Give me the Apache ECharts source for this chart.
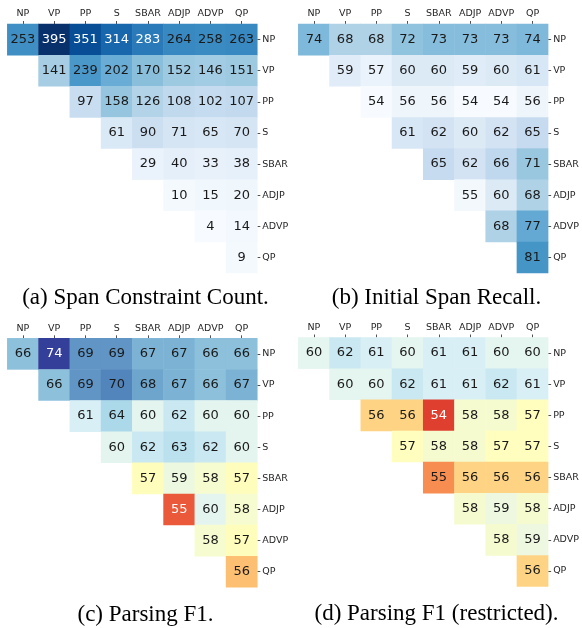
<!DOCTYPE html>
<html><head><meta charset="utf-8">
<script src="https://cdn.jsdelivr.net/npm/echarts@6/dist/echarts.min.js"></script>
<style>html,body{margin:0;padding:0;background:#fff}#c{width:582px;height:628px}</style>
</head><body><div id="c"></div>
<script>
// ---------------- DATA ----------------
const categories = ['NP', 'VP', 'PP', 'S', 'SBAR', 'ADJP', 'ADVP', 'QP'];

// each row i starts at column i (upper triangle)
const spanCount = [
  [253, 395, 351, 314, 283, 264, 258, 263],
  [141, 239, 202, 170, 152, 146, 151],
  [97, 158, 126, 108, 102, 107],
  [61, 90, 71, 65, 70],
  [29, 40, 33, 38],
  [10, 15, 20],
  [4, 14],
  [9]
];
const spanRecall = [
  [74, 68, 68, 72, 73, 73, 73, 74],
  [59, 57, 60, 60, 59, 60, 61],
  [54, 56, 56, 54, 54, 56],
  [61, 62, 60, 62, 65],
  [65, 62, 66, 71],
  [55, 60, 68],
  [68, 77],
  [81]
];
const parsingF1 = [
  [66, 74, 69, 69, 67, 67, 66, 66],
  [66, 69, 70, 68, 67, 66, 67],
  [61, 64, 60, 62, 60, 60],
  [60, 62, 63, 62, 60],
  [57, 59, 58, 57],
  [55, 60, 58],
  [58, 57],
  [56]
];
const parsingF1Restricted = [
  [60, 62, 61, 60, 61, 61, 60, 60],
  [60, 60, 62, 61, 61, 62, 61],
  [56, 56, 54, 58, 58, 57],
  [57, 58, 58, 57, 57],
  [55, 56, 56, 56],
  [58, 59, 58],
  [58, 59],
  [56]
];
const captions = [
  '(a) Span Constraint Count.',
  '(b) Initial Span Recall.',
  '(c) Parsing F1.',
  '(d) Parsing F1 (restricted).'
];

// ---------------- COLOURMAPS ----------------
const BLUES = ['#f7fbff','#deebf7','#c6dbef','#9ecae1','#6baed6','#4292c6','#2171b5','#08519c','#08306b'];
const RDYLBU = ['#a50026','#d73027','#f46d43','#fdae61','#fee090','#ffffbf','#e0f3f8','#abd9e9','#74add1','#4575b4','#313695'];
function h2r(h){ return [parseInt(h.slice(1,3),16), parseInt(h.slice(3,5),16), parseInt(h.slice(5,7),16)]; }
function cmap(stops, t){
  t = Math.max(0, Math.min(1, t));
  const p = t * (stops.length - 1);
  const i = Math.min(stops.length - 2, Math.floor(p));
  const f = p - i;
  const a = h2r(stops[i]), b = h2r(stops[i + 1]);
  const c = a.map((v, k) => Math.round(v + (b[k] - v) * f));
  return 'rgb(' + c.join(',') + ')';
}
function linearNorm(vmin, vmax){ return v => (v - vmin) / (vmax - vmin); }
function twoSlopeNorm(vmin, vc, vmax){
  return v => v < vc ? 0.5 * (v - vmin) / (vc - vmin) : 0.5 + 0.5 * (v - vc) / (vmax - vc);
}

const panels = [
  { rows: spanCount, stops: BLUES, min: 4, max: 395, norm: linearNorm(4, 395),
    white: v => v >= 280, left: 7.3, top: 24, cx: 145.5, cy: 298 },
  { rows: spanRecall, stops: BLUES, min: 54, max: 98, norm: linearNorm(54, 98),
    white: v => false, left: 298.3, top: 24, cx: 436.5, cy: 298 },
  { rows: parsingF1, stops: RDYLBU, min: 54, max: 74.5, norm: twoSlopeNorm(54, 57, 74.5),
    white: v => v >= 72 || v <= 55, left: 7.3, top: 338.3, cx: 145.5, cy: 615 },
  { rows: parsingF1Restricted, stops: RDYLBU, min: 53, max: 74.5, norm: twoSlopeNorm(53, 57, 74.5),
    white: v => v <= 54, left: 298.3, top: 337.5, cx: 436.5, cy: 614 }
];

const grids = [], xAxes = [], yAxes = [], series = [], visualMaps = [], graphics = [];
const axisLabelStyle = { fontFamily: 'DejaVu Sans', fontSize: 9.5, color: '#262626' };

panels.forEach((p, idx) => {
  grids.push({ left: p.left, top: p.top, width: 250, height: 249, containLabel: false });
  xAxes.push({
    type: 'category', gridIndex: idx, data: categories, position: 'top',
    axisLine: { show: false }, splitLine: { show: false },
    axisTick: { show: true, alignWithLabel: true, length: 3, lineStyle: { color: '#262626', width: 0.8 } },
    axisLabel: Object.assign({ margin: 5, interval: 0 }, axisLabelStyle)
  });
  yAxes.push({
    type: 'category', gridIndex: idx, data: categories, position: 'right', inverse: true,
    axisLine: { show: false }, splitLine: { show: false },
    axisTick: { show: true, alignWithLabel: true, length: 3, lineStyle: { color: '#262626', width: 0.8 } },
    axisLabel: Object.assign({ margin: 5, interval: 0 }, axisLabelStyle)
  });
  const data = [];
  p.rows.forEach((row, r) => {
    row.forEach((v, j) => {
      data.push({ value: [r + j, r, v], label: { color: p.white(v) ? '#ffffff' : '#1a1a1a' } });
    });
  });
  series.push({
    type: 'heatmap', xAxisIndex: idx, yAxisIndex: idx, data: data,
    label: { show: true, fontFamily: 'DejaVu Sans', fontSize: 13, formatter: o => o.value[2] },
    itemStyle: { borderWidth: 0 },
    emphasis: { disabled: true }
  });
  const N = 120, colors = [];
  for (let k = 0; k < N; k++) {
    const v = p.min + (p.max - p.min) * k / (N - 1);
    colors.push(cmap(p.stops, p.norm(v)));
  }
  visualMaps.push({ type: 'continuous', show: false, seriesIndex: idx, dimension: 2,
    min: p.min, max: p.max, inRange: { color: colors } });
  graphics.push({ type: 'text', x: p.cx, y: p.cy,
    style: { text: captions[idx], font: '23px "Liberation Serif"', fill: '#000',
      align: 'center', verticalAlign: 'middle', textAlign: 'center', textVerticalAlign: 'middle' } });
});

const chart = echarts.init(document.getElementById('c'), null, { renderer: 'canvas' });
chart.setOption({
  animation: false,
  backgroundColor: '#ffffff',
  grid: grids, xAxis: xAxes, yAxis: yAxes,
  visualMap: visualMaps, series: series, graphic: graphics
});
</script></body></html>
